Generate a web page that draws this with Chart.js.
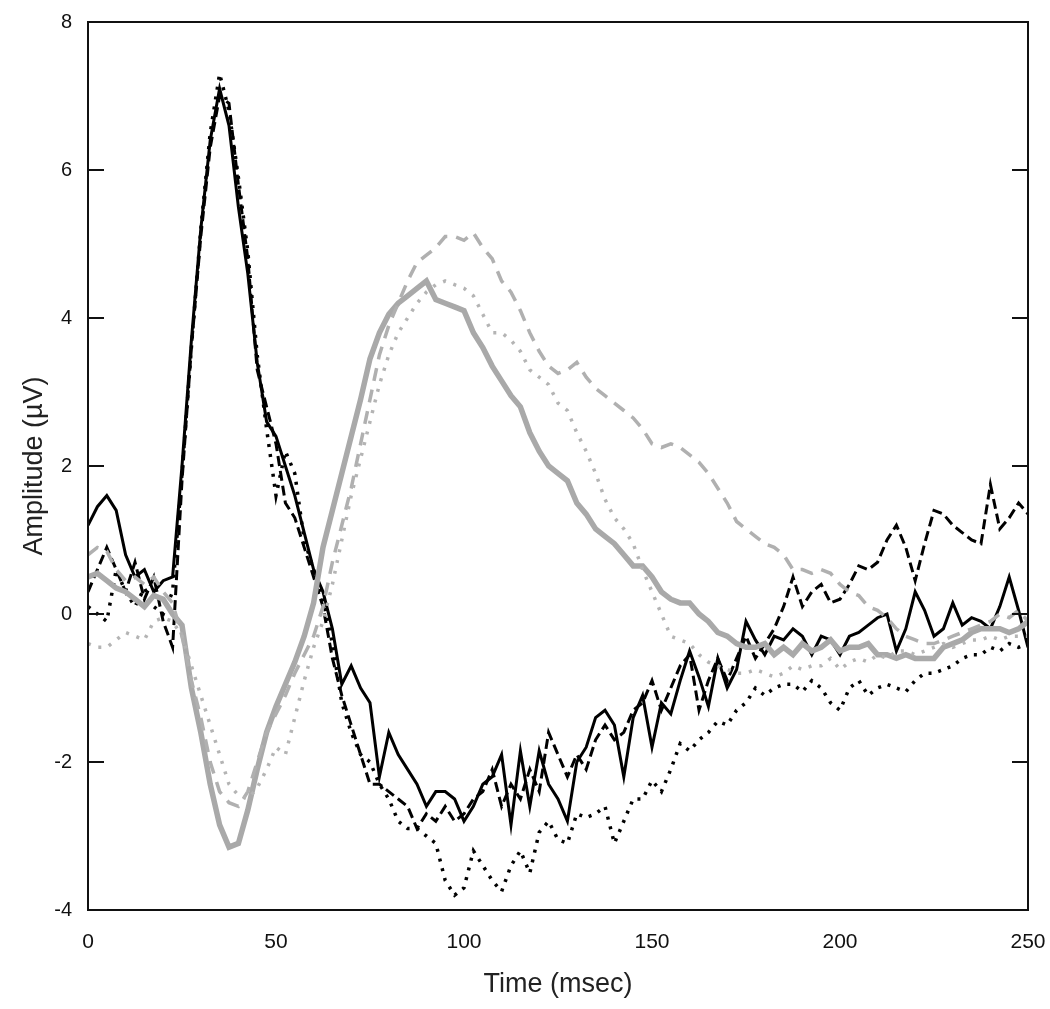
<!DOCTYPE html>
<html>
<head>
<meta charset="utf-8">
<title>ERP amplitude</title>
<script src="https://cdn.jsdelivr.net/npm/chart.js@4.4.1/dist/chart.umd.min.js"></script>
<style>
  body { margin: 0; background: #fff; }
  #wrap { width: 1050px; height: 1009px; }
</style>
</head>
<body>
<div id="wrap"><canvas id="erpChart" width="1050" height="1009"></canvas></div>
<script>
// time axis (msec), one sample every 2.5 ms
var timeMs = [0,2.5,5,7.5,10,12.5,15,17.5,20,22.5,25,27.5,30,32.5,35,37.5,40,42.5,45,47.5,
  50,52.5,55,57.5,60,62.5,65,67.5,70,72.5,75,77.5,80,82.5,85,87.5,90,92.5,95,97.5,
  100,102.5,105,107.5,110,112.5,115,117.5,120,122.5,125,127.5,130,132.5,135,137.5,140,142.5,145,147.5,
  150,152.5,155,157.5,160,162.5,165,167.5,170,172.5,175,177.5,180,182.5,185,187.5,190,192.5,195,197.5,
  200,202.5,205,207.5,210,212.5,215,217.5,220,222.5,225,227.5,230,232.5,235,237.5,240,242.5,245,247.5,250];

var blackSolid = [1.2,1.45,1.6,1.4,0.8,0.5,0.6,0.3,0.45,0.5,2.0,3.7,5.2,6.4,7.1,6.6,5.5,4.6,3.4,2.6,
  2.4,2.0,1.6,1.1,0.6,0.3,-0.2,-0.95,-0.7,-1.0,-1.2,-2.2,-1.6,-1.9,-2.1,-2.3,-2.6,-2.4,-2.4,-2.5,
  -2.8,-2.6,-2.3,-2.2,-1.9,-2.85,-1.85,-2.6,-1.85,-2.3,-2.5,-2.8,-2.0,-1.8,-1.4,-1.3,-1.5,-2.2,-1.4,-1.1,
  -1.8,-1.2,-1.35,-0.9,-0.5,-0.85,-1.25,-0.6,-1.0,-0.75,-0.1,-0.35,-0.55,-0.3,-0.35,-0.2,-0.3,-0.55,-0.3,-0.35,
  -0.55,-0.3,-0.25,-0.15,-0.05,0.0,-0.5,-0.2,0.3,0.05,-0.3,-0.2,0.15,-0.15,-0.05,-0.1,-0.2,0.1,0.5,0.05,-0.45];

var blackDashed = [0.3,0.6,0.9,0.6,0.3,0.7,0.2,0.5,-0.1,-0.45,1.8,3.6,5.1,6.3,7.0,6.9,5.8,4.8,3.3,2.8,
  2.3,1.5,1.3,0.9,0.5,0.1,-0.6,-1.1,-1.5,-1.9,-2.3,-2.3,-2.4,-2.5,-2.6,-2.9,-2.7,-2.8,-2.6,-2.8,
  -2.7,-2.5,-2.4,-2.1,-2.6,-2.3,-2.5,-2.1,-2.4,-1.6,-1.9,-2.2,-1.9,-2.1,-1.7,-1.5,-1.7,-1.6,-1.3,-1.2,
  -0.9,-1.3,-1.0,-0.7,-0.55,-1.3,-0.9,-0.6,-0.9,-0.6,-0.3,-0.6,-0.4,-0.2,0.1,0.5,0.1,0.3,0.4,0.15,
  0.2,0.4,0.65,0.6,0.7,1.0,1.2,0.9,0.45,0.95,1.4,1.35,1.2,1.1,1.0,0.95,1.75,1.15,1.3,1.5,1.35];

var blackDotted = [0.1,0.0,-0.1,0.6,0.3,0.1,0.35,0.1,0.0,0.3,1.9,3.6,5.2,6.5,7.3,6.8,5.9,4.9,3.5,2.5,
  1.6,2.2,1.9,1.0,0.6,0.2,-0.4,-1.2,-1.6,-1.9,-2.0,-2.3,-2.5,-2.8,-2.9,-2.9,-3.0,-3.1,-3.6,-3.8,
  -3.7,-3.2,-3.4,-3.6,-3.75,-3.4,-3.2,-3.5,-2.95,-2.8,-3.05,-3.1,-2.7,-2.75,-2.7,-2.6,-3.1,-2.8,-2.5,-2.5,
  -2.25,-2.4,-2.1,-1.75,-1.85,-1.7,-1.6,-1.45,-1.5,-1.3,-1.2,-1.0,-1.1,-1.0,-0.95,-0.95,-1.05,-0.9,-1.0,-1.2,
  -1.3,-1.0,-0.9,-1.1,-1.0,-0.95,-1.0,-1.05,-0.9,-0.8,-0.8,-0.75,-0.7,-0.6,-0.55,-0.55,-0.45,-0.5,-0.4,-0.45,-0.4];

var graySolid = [0.5,0.55,0.45,0.35,0.3,0.2,0.1,0.25,0.2,0.0,-0.15,-1.0,-1.6,-2.3,-2.85,-3.15,-3.1,-2.65,-2.1,-1.6,
  -1.25,-0.95,-0.65,-0.3,0.15,0.9,1.4,1.9,2.4,2.9,3.45,3.8,4.05,4.2,4.3,4.4,4.5,4.25,4.2,4.15,
  4.1,3.8,3.6,3.35,3.15,2.95,2.8,2.45,2.2,2.0,1.9,1.8,1.5,1.35,1.15,1.05,0.95,0.8,0.65,0.65,
  0.5,0.3,0.2,0.15,0.15,0.0,-0.1,-0.25,-0.3,-0.4,-0.45,-0.45,-0.4,-0.55,-0.45,-0.55,-0.4,-0.5,-0.45,-0.35,
  -0.5,-0.45,-0.45,-0.4,-0.55,-0.55,-0.6,-0.55,-0.6,-0.6,-0.6,-0.45,-0.4,-0.35,-0.25,-0.2,-0.2,-0.2,-0.25,-0.2,-0.1];

var grayDashed = [0.8,0.9,0.85,0.6,0.45,0.5,0.4,0.5,0.3,0.15,-0.3,-0.9,-1.4,-2.0,-2.4,-2.55,-2.6,-2.4,-2.0,-1.6,
  -1.35,-1.1,-0.8,-0.55,-0.3,0.1,0.7,1.2,1.7,2.3,2.9,3.5,3.9,4.2,4.5,4.75,4.85,4.95,5.1,5.1,
  5.05,5.15,4.95,4.8,4.5,4.35,4.1,3.8,3.55,3.35,3.25,3.3,3.4,3.2,3.05,2.95,2.85,2.75,2.65,2.5,
  2.3,2.25,2.3,2.25,2.15,2.05,1.9,1.7,1.5,1.25,1.15,1.05,0.95,0.9,0.8,0.6,0.6,0.55,0.6,0.55,
  0.4,0.3,0.25,0.1,0.05,-0.05,-0.2,-0.3,-0.35,-0.4,-0.4,-0.35,-0.3,-0.25,-0.2,-0.15,-0.1,0.0,-0.05,0.05,-0.1];

var grayDotted = [-0.4,-0.45,-0.45,-0.35,-0.25,-0.3,-0.35,-0.1,-0.05,-0.1,-0.3,-0.7,-1.1,-1.5,-1.9,-2.3,-2.45,-2.5,-2.35,-2.1,
  -1.8,-1.9,-1.4,-0.9,-0.45,-0.1,0.4,1.0,1.6,2.1,2.6,3.1,3.5,3.8,4.0,4.2,4.35,4.45,4.5,4.45,
  4.4,4.3,4.05,3.8,3.8,3.7,3.55,3.3,3.2,3.1,2.85,2.75,2.45,2.2,1.9,1.55,1.3,1.15,0.95,0.6,
  0.3,0.0,-0.3,-0.35,-0.4,-0.55,-0.65,-0.7,-0.75,-0.8,-0.8,-0.75,-0.8,-0.85,-0.8,-0.7,-0.75,-0.7,-0.7,-0.6,
  -0.75,-0.65,-0.6,-0.65,-0.55,-0.6,-0.5,-0.5,-0.55,-0.5,-0.45,-0.4,-0.45,-0.4,-0.35,-0.35,-0.3,-0.35,-0.3,-0.3,-0.3];

var yTickStep = 2;
var xTickStep = 50;

function toPoints(vals) {
  return vals.map((v, i) => ({ x: timeMs[i], y: v }));
}

// box around the plot plus short inward ticks on both y sides
const framePlugin = {
  id: 'frame',
  afterDraw(chart) {
    const ctx = chart.ctx;
    const a = chart.chartArea;
    const y = chart.scales.y;
    ctx.save();
    ctx.strokeStyle = '#111';
    ctx.lineWidth = 2;
    ctx.strokeRect(a.left, a.top, a.right - a.left, a.bottom - a.top);
    ctx.beginPath();
    y.ticks.forEach(t => {
      const py = Math.round(y.getPixelForValue(t.value));
      ctx.moveTo(a.left, py);
      ctx.lineTo(a.left + 16, py);
      ctx.moveTo(a.right, py);
      ctx.lineTo(a.right - 16, py);
    });
    ctx.stroke();
    ctx.restore();
  }
};

const lineSet = (vals, color, width, dash) => ({
  data: toPoints(vals),
  borderColor: color,
  borderWidth: width,
  borderDash: dash,
  pointRadius: 0,
  tension: 0,
  fill: false
});

const FONT = "'Liberation Sans', Arial, sans-serif";

new Chart(document.getElementById('erpChart'), {
  type: 'line',
  data: {
    datasets: [
      lineSet(grayDotted, '#b4b4b4', 3.5, [3, 8]),
      lineSet(grayDashed, '#b0b0b0', 3.5, [13, 9]),
      lineSet(graySolid, '#a9a9a9', 5.5, []),
      lineSet(blackDotted, '#000', 3.5, [3, 7]),
      lineSet(blackDashed, '#000', 3, [10, 5]),
      lineSet(blackSolid, '#000', 3, [])
    ]
  },
  options: {
    responsive: false,
    animation: false,
    layout: { padding: { top: 22, right: 22, left: 0, bottom: 0 } },
    plugins: { legend: { display: false }, tooltip: { enabled: false } },
    scales: {
      x: {
        type: 'linear',
        min: 0,
        max: 250,
        grid: { display: false },
        border: { display: false },
        ticks: { stepSize: xTickStep, color: '#111', padding: 12, font: { family: FONT, size: 21 } },
        title: { display: true, text: 'Time (msec)', color: '#222', padding: { top: 4, bottom: 8 }, font: { family: FONT, size: 27 } },
        afterFit: s => { s.height = 99; s.paddingLeft = 0; s.paddingRight = 0; }
      },
      y: {
        min: -4,
        max: 8,
        grid: { display: false },
        border: { display: false },
        ticks: { stepSize: yTickStep, color: '#111', padding: 8, font: { family: FONT, size: 20 } },
        title: { display: true, text: 'Amplitude (\u00b5V)', color: '#222', padding: { top: 18, bottom: 4 }, font: { family: FONT, size: 27 } },
        afterFit: s => { s.width = 88; s.paddingTop = 0; s.paddingBottom = 0; }
      }
    }
  },
  plugins: [framePlugin]
});
</script>
</body>
</html>
